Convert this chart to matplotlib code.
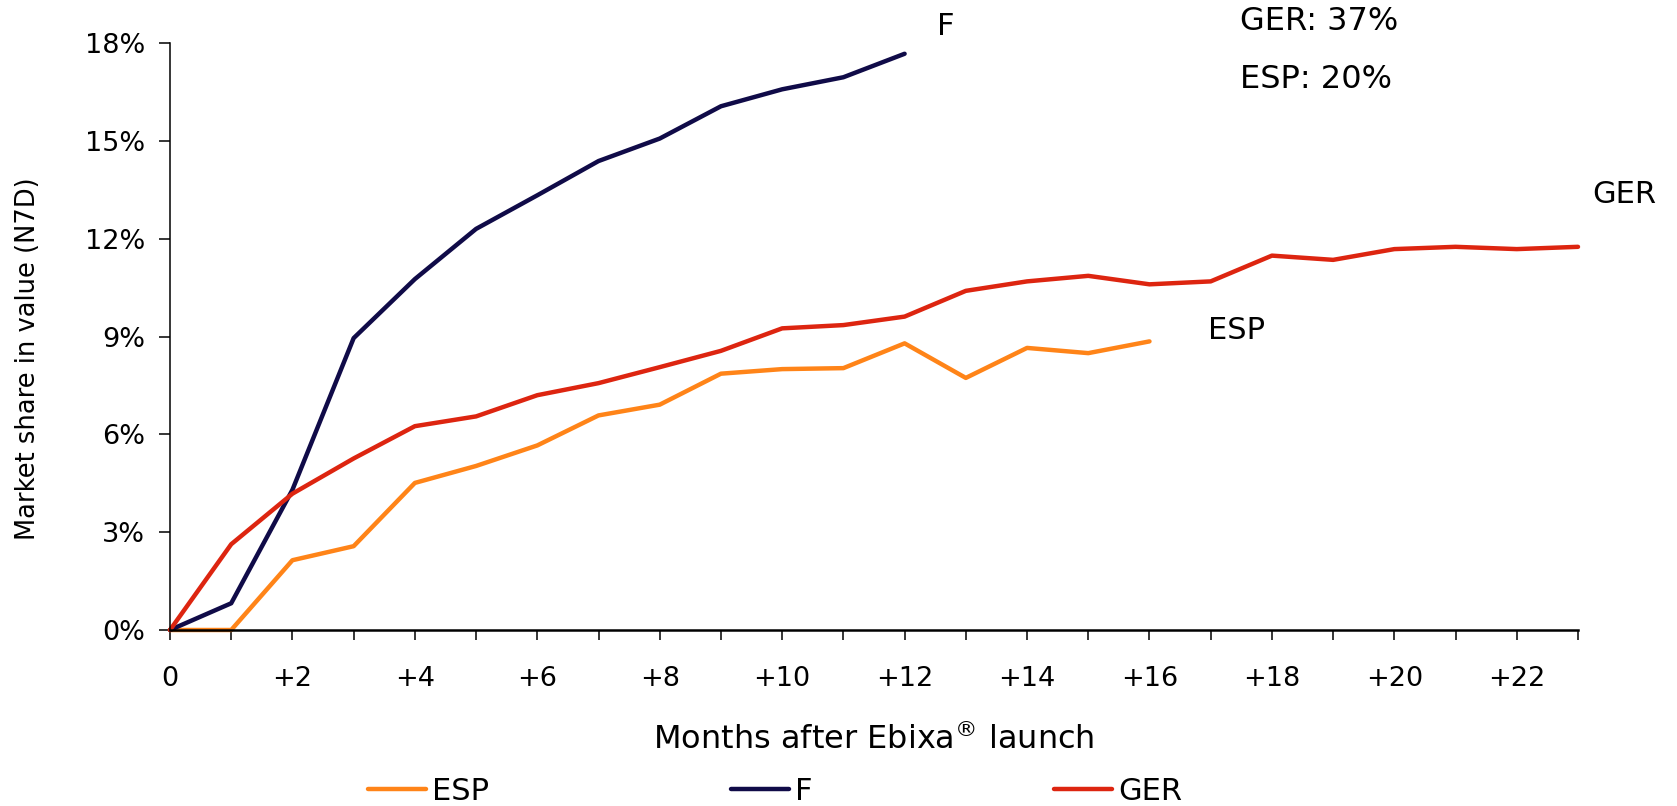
import numpy as np
import matplotlib.pyplot as plt

# Market share in value (%) by month after launch
months_esp = list(range(0, 17))
esp = [0, 0, 2.14, 2.57, 4.51, 5.03, 5.66, 6.58, 6.91, 7.86, 8.0, 8.03, 8.79, 7.73, 8.65, 8.49, 8.85]

months_f = list(range(0, 13))
fra = [0, 0.82, 4.3, 8.95, 10.76, 12.3, 13.33, 14.38, 15.07, 16.06, 16.58, 16.95, 17.67]

months_ger = list(range(0, 24))
ger = [0, 2.63, 4.18, 5.26, 6.25, 6.55, 7.2, 7.57, 8.06, 8.56, 9.25, 9.35, 9.61, 10.4,
       10.69, 10.86, 10.6, 10.69, 11.48, 11.35, 11.68, 11.75, 11.68, 11.75]

y_ticks = [0, 3, 6, 9, 12, 15, 18]
x_label_ticks = list(range(0, 23, 2))

c_esp = '#FF8418'
c_f = '#100B48'
c_ger = '#DD2510'

plt.rcParams['font.family'] = 'DejaVu Sans'

fig = plt.figure(figsize=(16.77, 8.06), dpi=100)
ax = fig.add_axes([170 / 1677, 1 - 630 / 806, 1408 / 1677, 587 / 806])

lw = 3.2
ax.plot(months_esp, esp, color=c_esp, lw=lw, label='ESP', solid_capstyle='round', solid_joinstyle='round', clip_on=False)
ax.plot(months_f, fra, color=c_f, lw=lw, label='F', solid_capstyle='round', solid_joinstyle='round', clip_on=False)
ax.plot(months_ger, ger, color=c_ger, lw=lw, label='GER', solid_capstyle='round', solid_joinstyle='round', clip_on=False)

ax.set_xlim(0, 23)
ax.set_ylim(0, 18)

ax.set_xticks(range(0, 24))
ax.set_xticklabels(['0' if m == 0 else f'+{m}' if m in x_label_ticks else '' for m in range(0, 24)])
ax.set_yticks(y_ticks)
ax.set_yticklabels([f'{v}%' for v in y_ticks])

ax.tick_params(axis='x', length=7.5, width=1.1, pad=18.5, labelsize=19.5)
ax.tick_params(axis='y', length=8, width=1.1, pad=10, labelsize=19.5)

for s in ['top', 'right']:
    ax.spines[s].set_visible(False)
ax.spines['bottom'].set_linewidth(1.8)
ax.spines['left'].set_linewidth(1.1)

ax.set_xlabel(r'Months after Ebixa$^{\circledR}$ launch', fontsize=23)
ax.xaxis.label.set_verticalalignment('baseline')
ax.xaxis.set_label_coords(0.5, -0.2027)

ax.set_ylabel('Market share in value (N7D)', fontsize=18.5)
ax.yaxis.label.set(va='center', ha='center', rotation_mode='default')
ax.yaxis.set_label_coords(-0.1008, 0.463)

# series labels and notes
ax.text(12.53, 18.25, 'F', fontsize=22, va='baseline', ha='left', clip_on=False)
ax.text(23.24, 13.09, 'GER', fontsize=22, va='baseline', ha='left', clip_on=False)
ax.text(16.96, 8.92, 'ESP', fontsize=22, va='baseline', ha='left', clip_on=False)
ax.text(17.48, 18.40, 'GER: 37%', fontsize=23, va='baseline', ha='left', clip_on=False)
ax.text(17.48, 16.62, 'ESP: 20%', fontsize=23, va='baseline', ha='left', clip_on=False)

leg = fig.legend(loc='center left', bbox_to_anchor=(368 / 1677, 1 - 791 / 806), ncol=3,
                 frameon=False, fontsize=22, handlelength=1.9, handletextpad=0.2,
                 columnspacing=7.9, borderpad=0, borderaxespad=0)
for h in leg.get_lines():
    h.set_linewidth(lw)
    h.set_solid_capstyle('round')

fig.savefig('out.png', dpi=100)
